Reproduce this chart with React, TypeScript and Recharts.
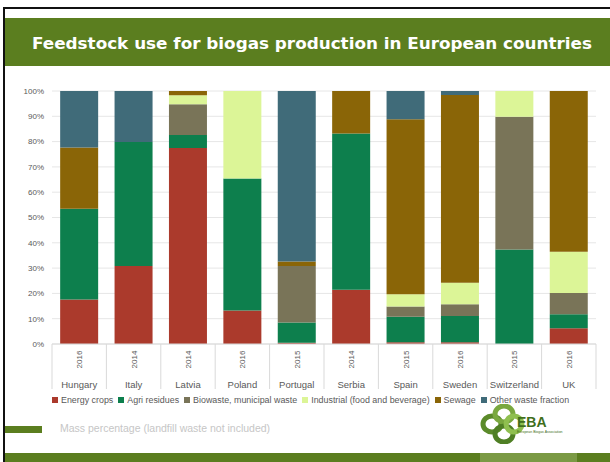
import React from "react";
import { BarChart, Bar, XAxis, YAxis, CartesianGrid, Legend } from "recharts";

const countries = ["Hungary", "Italy", "Latvia", "Poland", "Portugal", "Serbia", "Spain", "Sweden", "Switzerland", "UK"];
const years = ["2016", "2014", "2014", "2016", "2015", "2014", "2015", "2016", "2015", "2016"];

// mass share per feedstock, %
const energyCrops = [17.6, 30.8, 77.5, 13.2, 0.5, 21.4, 0.7, 0.7, 0, 6.2];
const agriResidues = [35.9, 49.0, 5.1, 52.2, 8.0, 61.8, 10.1, 10.4, 37.4, 5.6];
const biowaste = [0, 0, 12.2, 0, 22.3, 0, 4.0, 4.6, 52.4, 8.4];
const industrial = [0, 0, 3.5, 34.6, 0, 0, 4.9, 8.5, 10.2, 16.3];
const sewage = [24.2, 0, 1.7, 0, 1.8, 16.8, 69.1, 74.2, 0, 63.5];
const otherWaste = [22.3, 20.2, 0, 0, 67.4, 0, 11.2, 1.6, 0, 0];

const yTicks = [0, 10, 20, 30, 40, 50, 60, 70, 80, 90, 100];

const SERIES = [
  { key: "energy", name: "Energy crops", color: "#ab3a2c" },
  { key: "agri", name: "Agri residues", color: "#0d7f4d" },
  { key: "bio", name: "Biowaste, municipal waste", color: "#797458" },
  { key: "industrial", name: "Industrial (food and beverage)", color: "#dcf597" },
  { key: "sewage", name: "Sewage", color: "#8a6507" },
  { key: "other", name: "Other waste fraction", color: "#406b79" },
];

const data = countries.map((c, i) => ({
  country: c,
  year: years[i],
  energy: energyCrops[i],
  agri: agriResidues[i],
  bio: biowaste[i],
  industrial: industrial[i],
  sewage: sewage[i],
  other: otherWaste[i],
}));

const FONT = "'Liberation Sans', Arial, sans-serif";
const GREEN = "#5b7e1f";

// tick y sits 8px below the axis line (tickSize 6 + tickMargin 2)
function CountryTick(props: any) {
  const { x, y, payload } = props;
  const half = payload.offset || 27.2;
  const idx = payload.index;
  return (
    <g>
      <line x1={x - half} y1={y - 8} x2={x - half} y2={y + 37} stroke="#d9d9d9" />
      {idx === countries.length - 1 && (
        <line x1={x + half} y1={y - 8} x2={x + half} y2={y + 37} stroke="#d9d9d9" />
      )}
      <text
        x={0}
        y={0}
        transform={`translate(${x + 3},${y + 7.5}) rotate(-90)`}
        textAnchor="middle"
        fontSize={8}
        fill="#595959"
        fontFamily={FONT}
      >
        {years[idx]}
      </text>
      <text x={x} y={y + 35.5} textAnchor="middle" fontSize={9.5} fill="#595959" fontFamily={FONT}>
        {payload.value}
      </text>
    </g>
  );
}

function LegendContent() {
  return (
    <div style={{ display: "flex", fontFamily: FONT, fontSize: 8.9, color: "#595959", whiteSpace: "nowrap" }}>
      {SERIES.map((s) => (
        <span key={s.key} style={{ display: "flex", alignItems: "center", marginRight: 5 }}>
          <span style={{ width: 6, height: 6, background: s.color, display: "inline-block", marginRight: 3 }} />
          {s.name}
        </span>
      ))}
    </div>
  );
}

function EbaLogo() {
  return (
    <svg width={100} height={40} style={{ position: "absolute", left: 480, top: 404 }}>
      <g fill="none" strokeWidth={5}>
        <ellipse cx={12} cy={20} rx={9} ry={8} stroke="#5b8a2a" />
        <ellipse cx={24} cy={10} rx={9} ry={8} stroke="#7aa83f" />
        <ellipse cx={24} cy={30} rx={9} ry={8} stroke="#4f7f24" />
        <ellipse cx={34} cy={20} rx={8} ry={8} stroke="#8fbf4f" />
      </g>
      <text x={37} y={23} fontFamily={FONT} fontWeight="bold" fontSize={14} fill="#3f6e1c">
        EBA
      </text>
      <text x={37} y={29} fontFamily={FONT} fontSize={3.5} fill="#3f6e1c">
        European Biogas Association
      </text>
    </svg>
  );
}

export default function App() {
  return (
    <div
      style={{
        position: "fixed",
        left: 0,
        top: 0,
        width: 610,
        height: 462,
        background: "#fff",
        overflow: "hidden",
      }}
    >
      {/* slide frame */}
      <div style={{ position: "absolute", left: 3, top: 7, width: 607, height: 2, background: "#111" }} />
      <div style={{ position: "absolute", left: 3, top: 7, width: 2, height: 455, background: "#111" }} />
      <div style={{ position: "absolute", left: 5, top: 18, width: 605, height: 48, background: GREEN }} />
      <svg width={610} height={70} style={{ position: "absolute", left: 0, top: 0 }}>
        <text
          x={32}
          y={49}
          textLength={560}
          lengthAdjust="spacingAndGlyphs"
          fontFamily="'DejaVu Sans', Verdana, sans-serif"
          fontWeight="bold"
          fontSize={15.5}
          fill="#fff"
        >
          Feedstock use for biogas production in European countries
        </text>
      </svg>

      <div style={{ position: "absolute", left: 0, top: 0 }}>
        <BarChart
          width={610}
          height={462}
          data={data}
          margin={{ top: 91, right: 14, left: 0, bottom: 61 }}
          barCategoryGap="15%"
        >
          <CartesianGrid vertical={false} stroke="#e6e6e6" />
          <XAxis
            dataKey="country"
            tick={<CountryTick />}
            tickLine={false}
            axisLine={{ stroke: "#d9d9d9" }}
            height={47}
            interval={0}
          />
          <YAxis
            width={52}
            domain={[0, 100]}
            ticks={yTicks}
            tickFormatter={(v: number) => `${v}%`}
            tick={{ fontSize: 8, fill: "#595959", fontFamily: FONT }}
            tickLine={false}
            axisLine={false}
            tickMargin={2}
          />
          <Legend
            verticalAlign="bottom"
            content={<LegendContent />}
            wrapperStyle={{ left: 52, top: 395, width: 540 }}
          />
          {SERIES.map((s) => (
            <Bar key={s.key} dataKey={s.key} name={s.name} stackId="a" fill={s.color} isAnimationActive={false} />
          ))}
        </BarChart>
      </div>

      <div style={{ position: "absolute", left: 5, top: 426, width: 37, height: 7, background: GREEN }} />
      <div
        style={{
          position: "absolute",
          left: 60,
          top: 422,
          fontFamily: FONT,
          fontSize: 10.5,
          color: "#c6c6c6",
          whiteSpace: "nowrap",
        }}
      >
        Mass percentage (landfill waste not included)
      </div>
      <EbaLogo />
      <div style={{ position: "absolute", left: 5, top: 453, width: 605, height: 9, background: GREEN }} />
      <div style={{ position: "absolute", left: 480, top: 453, width: 97, height: 9, background: "#7b9a45" }} />
    </div>
  );
}
